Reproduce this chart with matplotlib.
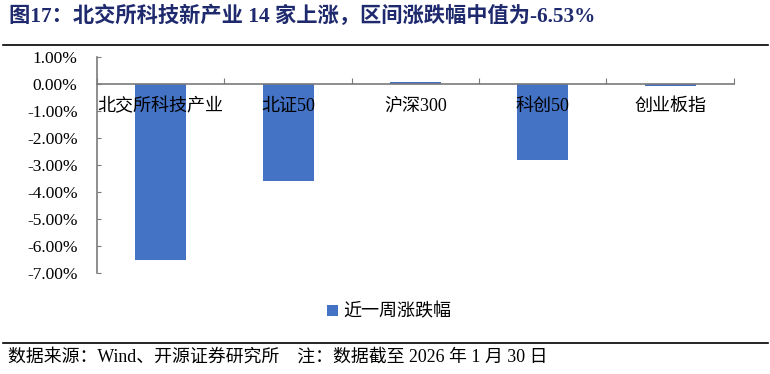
import matplotlib.pyplot as plt
import numpy as np
from matplotlib.lines import Line2D

plt.rcParams['font.family'] = ['Liberation Serif', 'Noto Sans CJK SC']

# data
categories = ['北交所科技产业', '北证50', '沪深300', '科创50', '创业板指']
weekly_change = [-6.52, -3.59, 0.07, -2.82, -0.08]   # 近一周涨跌幅, %
yticks = [1, 0, -1, -2, -3, -4, -5, -6, -7]

bar_color = '#4472C4'
axis_color = '#7a7a7a'

fig = plt.figure(figsize=(7.7, 3.74), dpi=100)
ax = fig.add_axes([0.126, 0.270, 0.827, 0.578])

x = np.arange(len(categories))
ax.bar(x, weekly_change, width=0.4, color=bar_color, label='近一周涨跌幅', zorder=1)
ax.set_axisbelow(False)   # category labels sit on top of the bars

ax.set_xlim(-0.5, len(categories) - 0.5)
ax.set_ylim(-7, 1)
ax.set_yticks(yticks)
ax.set_yticklabels(['%.2f%%' % v for v in yticks])

# category boundaries as ticks, labels at centres
ax.set_xticks(np.arange(len(categories) + 1) - 0.5)
ax.set_xticklabels([])
ax.set_xticks(x, minor=True)
ax.set_xticklabels(categories, minor=True)
ax.tick_params(axis='x', which='major', direction='in', length=4, color=axis_color)
ax.tick_params(axis='x', which='minor', length=0, pad=10, labelsize=13)
ax.tick_params(axis='y', direction='in', length=3, color=axis_color, pad=14, labelsize=12.5)

ax.spines['top'].set_visible(False)
ax.spines['right'].set_visible(False)
ax.spines['bottom'].set_position(('data', 0))
for s in ['left', 'bottom']:
    ax.spines[s].set_color(axis_color)
    ax.spines[s].set_linewidth(1.2)

fig.legend(loc='center', bbox_to_anchor=(0.505, 1 - 312 / 374), frameon=False,
           fontsize=13, handlelength=0.6, handleheight=0.6, handletextpad=0.3)

# title and footer
fig.text(0.012, 1 - 16 / 374, '图17：北交所科技新产业 14 家上涨，区间涨跌幅中值为-6.53%',
         fontsize=15.3, fontweight='bold', color='#1F2A6E', va='center')
fig.add_artist(Line2D([0.004, 0.997], [1 - 45 / 374] * 2, color='black', lw=1.2))
fig.add_artist(Line2D([0.004, 0.997], [1 - 343 / 374] * 2, color='black', lw=1.2))
fig.text(0.010, 1 - 357 / 374, '数据来源：Wind、开源证券研究所    注：数据截至 2026 年 1 月 30 日',
         fontsize=12.9, va='center')

plt.savefig('out.png', dpi=100)
